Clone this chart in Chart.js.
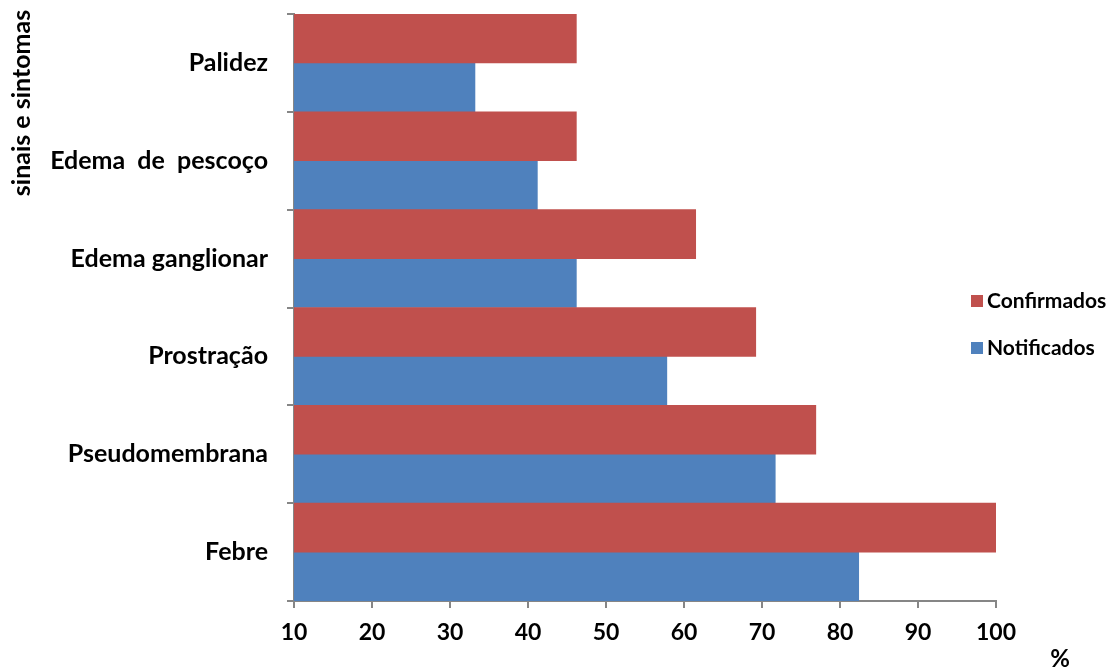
<!DOCTYPE html>
<html lang="pt">
<head>
    <meta charset="UTF-8">
    <title>Sinais e sintomas</title>
    <script src="https://cdn.jsdelivr.net/npm/chart.js@4.4.1/dist/chart.umd.min.js"></script>
    <style>
        html, body { margin: 0; padding: 0; background: #fff; }
        #wrap { width: 1110px; height: 668px; }
    </style>
</head>
<body>
    <div id="wrap"><canvas id="chart" width="1110" height="668"></canvas></div>

    <script>
        // categories, top to bottom
        const sintomas = ['Palidez', 'Edema  de  pescoço', 'Edema ganglionar', 'Prostração', 'Pseudomembrana', 'Febre'];
        // % values
        const confirmados = [46.2, 46.2, 61.5, 69.2, 76.9, 100];
        const notificados = [33.2, 41.2, 46.2, 57.8, 71.7, 82.4];
        const xTicks = [10, 20, 30, 40, 50, 60, 70, 80, 90, 100];

        const FONT = 'Lato, "Open Sans", sans-serif';
        const AXIS_GREY = '#868686';

        // legend, y title and "%" label are drawn by hand
        const extras = {
            id: 'extras',
            afterDraw(chart) {
                const ctx = chart.ctx;
                ctx.save();
                ctx.fillStyle = '#000';

                // y axis title, rotated
                ctx.save();
                ctx.translate(22, 103);
                ctx.rotate(-Math.PI / 2);
                ctx.font = 'bold 25px ' + FONT;
                ctx.textAlign = 'center';
                ctx.textBaseline = 'middle';
                ctx.fillText('sinais e sintomas', 0, 0);
                ctx.restore();

                // "%" under the right end of the x axis
                ctx.font = 'bold 24px ' + FONT;
                ctx.textAlign = 'center';
                ctx.textBaseline = 'top';
                ctx.fillText('%', 1060, 647);

                // legend
                const items = chart.data.datasets;
                const rows = [301, 348];
                ctx.font = 'bold 21px ' + FONT;
                ctx.textAlign = 'left';
                ctx.textBaseline = 'middle';
                items.forEach((ds, i) => {
                    ctx.fillStyle = ds.backgroundColor;
                    ctx.fillRect(971, rows[i] - 6, 12, 12);
                    ctx.fillStyle = '#000';
                    ctx.fillText(ds.label, 987, rows[i]);
                });
                ctx.restore();
            }
        };

        new Chart(document.getElementById('chart'), {
            type: 'bar',
            data: {
                labels: sintomas,
                datasets: [
                    {
                        label: 'Confirmados',
                        data: confirmados,
                        backgroundColor: '#C0504D',
                        categoryPercentage: 1,
                        barPercentage: 1
                    },
                    {
                        label: 'Notificados',
                        data: notificados,
                        backgroundColor: '#4F81BD',
                        categoryPercentage: 1,
                        barPercentage: 1
                    }
                ]
            },
            options: {
                indexAxis: 'y',
                responsive: false,
                animation: false,
                devicePixelRatio: 1,
                layout: { padding: { top: 14, right: 114, left: 0, bottom: 0 } },
                plugins: {
                    legend: { display: false },
                    tooltip: { enabled: false }
                },
                scales: {
                    x: {
                        min: 10,
                        max: 100,
                        afterBuildTicks: (s) => { s.ticks = xTicks.map(v => ({ value: v })); },
                        afterFit: (s) => { s.height = 67; },
                        grid: { drawOnChartArea: false, drawTicks: true, tickLength: 7, color: AXIS_GREY, lineWidth: 2 },
                        border: { color: AXIS_GREY, width: 2 },
                        ticks: {
                            color: '#000',
                            padding: 11,
                            font: { family: FONT, size: 23, weight: 'bold' }
                        }
                    },
                    y: {
                        // fixed width, and no extra room for half labels at the ends
                        afterFit: (s) => { s.width = 294; s.paddingTop = 0; s.paddingBottom = 0; },
                        grid: { drawOnChartArea: false, drawTicks: true, tickLength: 7, color: AXIS_GREY, lineWidth: 2 },
                        border: { color: AXIS_GREY, width: 2 },
                        ticks: {
                            color: '#000',
                            padding: 19,
                            font: { family: FONT, size: 25, weight: 'bold' }
                        }
                    }
                }
            },
            plugins: [extras]
        });
    </script>
</body>
</html>
